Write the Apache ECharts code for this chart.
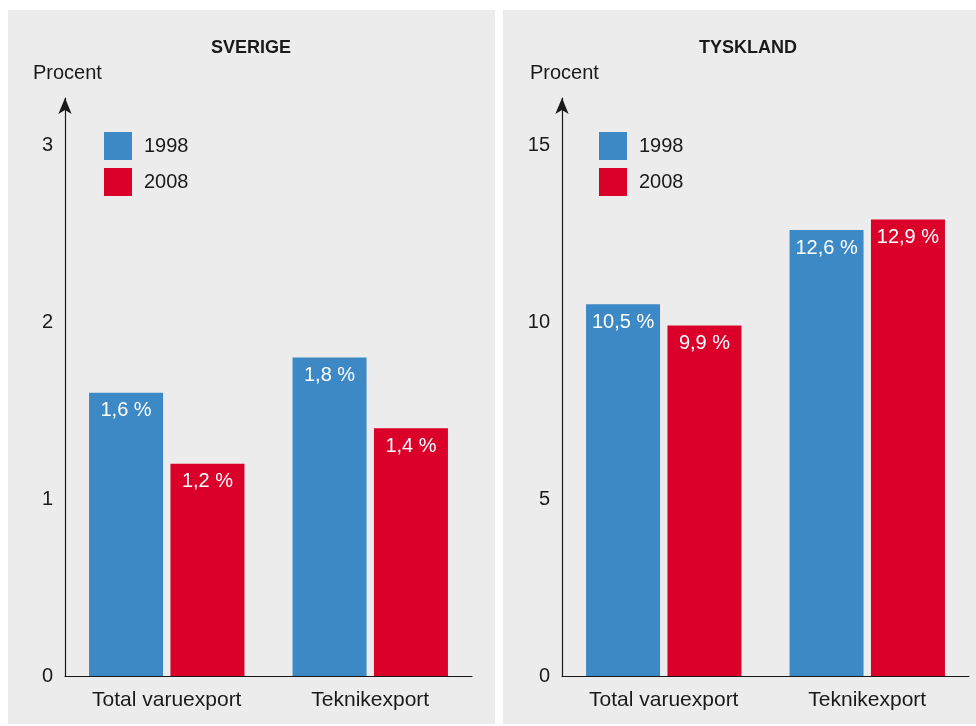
<!DOCTYPE html>
<html>
<head>
<meta charset="utf-8">
<script src="https://cdn.jsdelivr.net/npm/echarts@6/dist/echarts.min.js"></script>
<style>
  html, body { margin: 0; padding: 0; background: #ffffff; }
  #chart { width: 976px; height: 726px; }
</style>
</head>
<body>
<div id="chart"></div>
<script>
// Export shares, two countries, two years
const categories = ['Total varuexport', 'Teknikexport'];
const years = ['1998', '2008'];
const sverige1998 = [1.6, 1.8];
const sverige2008 = [1.2, 1.4];
const tyskland1998 = [10.5, 12.6];
const tyskland2008 = [9.9, 12.9];
const panelTitles = ['SVERIGE', 'TYSKLAND'];
const axisName = 'Procent';

const BLUE = '#3d89c5';
const RED = '#db0029';
const PANEL = '#ebeceb';
const INK = '#1a1a1a';
const FONT = '"Liberation Sans", Arial, sans-serif';

const chart = echarts.init(document.getElementById('chart'), null, { renderer: 'canvas' });

const fmtPct = p => p.value.toFixed(1).replace('.', ',') + ' %';

function barSeries(name, data, color, idx) {
  return {
    name: name,
    type: 'bar',
    xAxisIndex: idx,
    yAxisIndex: idx,
    data: data,
    barWidth: 74,
    barGap: '10%',
    itemStyle: { color: color },
    label: {
      show: true,
      position: 'insideTop',
      distance: 8,
      color: '#ffffff',
      fontFamily: FONT,
      fontSize: 20,
      formatter: fmtPct
    },
    emphasis: { disabled: true }
  };
}

function yAxisFor(idx, max, step) {
  return {
    type: 'value',
    gridIndex: idx,
    min: 0,
    max: max,
    interval: step,
    splitLine: { show: false },
    axisTick: { show: false },
    axisLine: {
      show: true,
      symbol: ['none', 'arrow'],
      symbolSize: [10, 16],
      lineStyle: { color: INK, width: 1.2 }
    },
    axisLabel: {
      color: INK,
      fontFamily: FONT,
      fontSize: 20,
      margin: 12,
      formatter: v => (Math.abs(v / step - Math.round(v / step)) < 1e-6 ? String(v) : '')
    }
  };
}

function xAxisFor(idx) {
  return {
    type: 'category',
    gridIndex: idx,
    data: categories,
    offset: 1,
    axisTick: { show: false },
    axisLine: { show: true, lineStyle: { color: INK, width: 1.2 } },
    axisLabel: { color: INK, fontFamily: FONT, fontSize: 21, margin: 13 }
  };
}

function legendFor(left) {
  return {
    data: years,
    orient: 'vertical',
    left: left,
    top: 132,
    padding: 0,
    itemWidth: 28,
    itemHeight: 28,
    itemGap: 8,
    icon: 'rect',
    selectedMode: false,
    textStyle: { color: INK, fontFamily: FONT, fontSize: 20, padding: [0, 0, 0, 7] }
  };
}

function titleFor(text, left, top, size, weight, align) {
  return {
    text: text, left: left, top: top, padding: 0, textAlign: align,
    textStyle: { fontFamily: FONT, fontSize: size, fontWeight: weight, color: INK }
  };
}

// value range chosen so the arrow tip sits above the top tick
const svMax = 3.266;
const tyMax = 16.33;

chart.setOption({
  animation: false,
  backgroundColor: '#ffffff',
  graphic: [
    { type: 'rect', left: 8, top: 10, shape: { width: 487, height: 714 }, style: { fill: PANEL }, z: -10 },
    { type: 'rect', left: 503, top: 10, shape: { width: 480, height: 714 }, style: { fill: PANEL }, z: -10 }
  ],
  title: [
    titleFor(panelTitles[0], 251, 39, 18, 'bold', 'center'),
    titleFor(panelTitles[1], 748, 39, 18, 'bold', 'center'),
    titleFor(axisName, 33, 63, 20, 'normal', 'left'),
    titleFor(axisName, 530, 63, 20, 'normal', 'left')
  ],
  legend: [legendFor(104), legendFor(599)],
  grid: [
    { left: 65, top: 98, width: 407, height: 578 },
    { left: 562, top: 98, width: 407, height: 578 }
  ],
  xAxis: [xAxisFor(0), xAxisFor(1)],
  yAxis: [yAxisFor(0, svMax, 1), yAxisFor(1, tyMax, 5)],
  series: [
    barSeries(years[0], sverige1998, BLUE, 0),
    barSeries(years[1], sverige2008, RED, 0),
    barSeries(years[0], tyskland1998, BLUE, 1),
    barSeries(years[1], tyskland2008, RED, 1)
  ]
});
</script>
</body>
</html>
